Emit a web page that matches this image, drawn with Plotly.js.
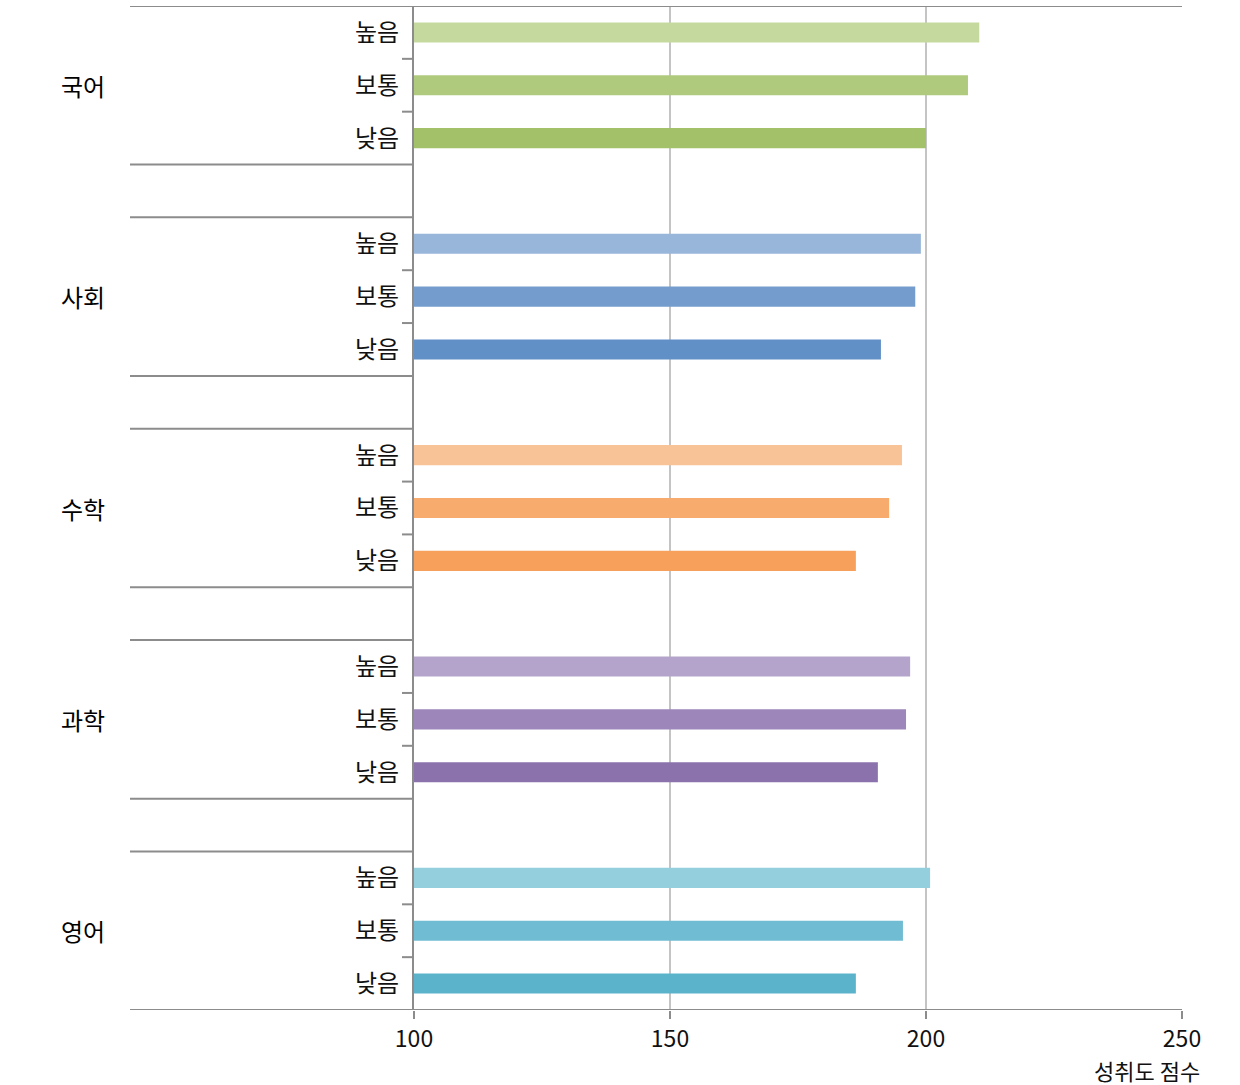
<!DOCTYPE html>
<html>
<head>
<meta charset="utf-8">
<script src="https://cdn.plot.ly/plotly-3.0.1.min.js"></script>
<style>html,body{margin:0;padding:0;background:#fff;}#chart{width:1240px;height:1085px;}</style>
</head>
<body>
<div id="chart"></div>
<script>
const subjects = ['국어', '사회', '수학', '과학', '영어'];
const levels = ['높음', '보통', '낮음'];
const scores_국어 = [210.4, 208.2, 200.0];
const scores_사회 = [199.0, 197.9, 191.2];
const scores_수학 = [195.3, 192.8, 186.3];
const scores_과학 = [196.9, 196.1, 190.6];
const scores_영어 = [200.8, 195.5, 186.3];
const colors_국어 = ['#c5d99f', '#b0ca7d', '#a3c169'];
const colors_사회 = ['#98b5da', '#749ccc', '#6090c5'];
const colors_수학 = ['#f8c396', '#f7ab6d', '#f6a05b'];
const colors_과학 = ['#b4a3ca', '#9d86b9', '#8c72ac'];
const colors_영어 = ['#94cfde', '#70bdd3', '#5bb3cb'];
const xTicks = [100, 150, 200, 250];
const xTitle = '성취도 점수';

const allScores = [scores_국어, scores_사회, scores_수학, scores_과학, scores_영어];
const allColors = [colors_국어, colors_사회, colors_수학, colors_과학, colors_영어];

const FONT = '"Noto Sans CJK KR", "Noto Sans", sans-serif';
const slotsPerGroup = levels.length + 1;
const nSlots = subjects.length * slotsPerGroup - 1;

const traces = subjects.map((s, g) => ({
  type: 'bar',
  orientation: 'h',
  name: s,
  x: allScores[g],
  y: levels.map((_, i) => g * slotsPerGroup + i),
  base: 0,
  width: 0.38,
  marker: {color: allColors[g], line: {width: 0}},
  hovertemplate: s + ' %{text}: %{x}<extra></extra>',
  text: levels,
  textposition: 'none'
}));

const tickvals = [], ticktext = [];
subjects.forEach((s, g) => levels.forEach((l, i) => { tickvals.push(g * slotsPerGroup + i); ticktext.push(l); }));

const lineColor = '#8c8c8c';
const leftEdge = (130 - 414) / 768;
const shapes = [];
shapes.push({type: 'line', xref: 'paper', yref: 'y', x0: leftEdge, x1: 1, y0: -0.5, y1: -0.5, line: {color: lineColor, width: 2}});
shapes.push({type: 'line', xref: 'paper', yref: 'y', x0: leftEdge, x1: 1, y0: nSlots - 0.5, y1: nSlots - 0.5, line: {color: lineColor, width: 2}});
subjects.forEach((s, g) => {
  const top = g * slotsPerGroup - 0.5;
  const bot = g * slotsPerGroup + levels.length - 0.5;
  if (g > 0) shapes.push({type: 'line', xref: 'paper', yref: 'y', x0: leftEdge, x1: 0, y0: top, y1: top, line: {color: lineColor, width: 2}});
  if (g < subjects.length - 1) shapes.push({type: 'line', xref: 'paper', yref: 'y', x0: leftEdge, x1: 0, y0: bot, y1: bot, line: {color: lineColor, width: 2}});
  for (let i = 1; i < levels.length; i++) {
    const yy = g * slotsPerGroup + i - 0.5;
    shapes.push({type: 'line', xref: 'paper', yref: 'y', x0: -12 / 768, x1: 0, y0: yy, y1: yy, line: {color: lineColor, width: 2}});
  }
});

const annotations = subjects.map((s, g) => ({
  xref: 'paper', yref: 'y', x: (83 - 414) / 768, y: g * slotsPerGroup + (levels.length - 1) / 2,
  text: s, showarrow: false, xanchor: 'center', yanchor: 'middle',
  font: {family: FONT, size: 24, color: '#000'}
}));
annotations.push({
  xref: 'paper', yref: 'paper', x: (1202 - 414) / 768, y: -(1070 - 1010) / 1004,
  text: xTitle, showarrow: false, xanchor: 'right', yanchor: 'middle',
  font: {family: FONT, size: 22, color: '#111'}
});

const layout = {
  width: 1240, height: 1085,
  margin: {l: 414, r: 58, t: 6, b: 75},
  paper_bgcolor: '#fff', plot_bgcolor: '#fff',
  showlegend: false,
  barmode: 'overlay',
  font: {family: FONT, color: '#111'},
  xaxis: {
    range: [xTicks[0], xTicks[xTicks.length - 1]],
    tickvals: xTicks,
    showgrid: true, gridcolor: '#c4c4c4', gridwidth: 1.5,
    zeroline: false, showline: false,
    ticks: 'outside', ticklen: 8, tickwidth: 2, tickcolor: lineColor,
    tickfont: {family: FONT, size: 23, color: '#111'},
    fixedrange: true
  },
  yaxis: {
    range: [nSlots - 0.5, -0.5],
    tickvals: tickvals, ticktext: ticktext,
    showgrid: false, zeroline: false,
    showline: true, linecolor: lineColor, linewidth: 2,
    ticks: '', ticklabelstandoff: 8,
    tickfont: {family: FONT, size: 24, color: '#111'},
    fixedrange: true
  },
  shapes: shapes,
  annotations: annotations
};

Plotly.newPlot('chart', traces, layout, {displayModeBar: false, staticPlot: true});
</script>
</body>
</html>
